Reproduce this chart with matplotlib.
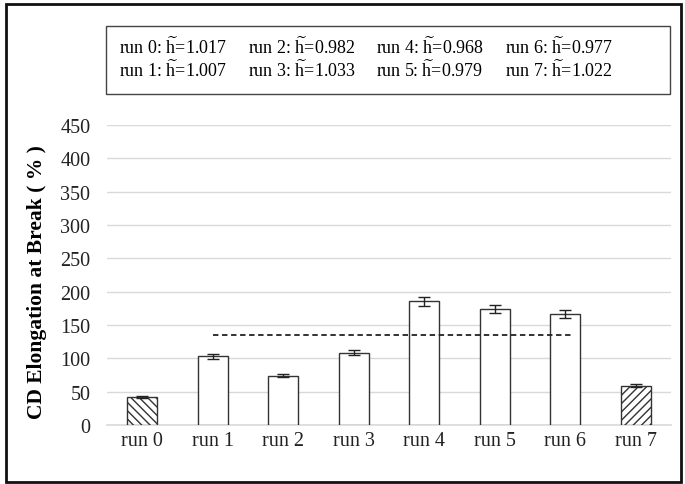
import numpy as np
import matplotlib
matplotlib.use("Agg")
from matplotlib import pyplot as plt
from matplotlib.patches import Rectangle, Patch

# CD elongation at break per run, with error bars
runs = ["run 0", "run 1", "run 2", "run 3", "run 4", "run 5", "run 6", "run 7"]
elongation = [42, 103, 74, 108.5, 185.5, 173.5, 167, 59]
errors = [2, 4, 2.5, 4, 6.5, 6, 6, 2]
h_tilde = ["1.017", "1.007", "0.982", "1.033", "0.968", "0.979", "0.977", "1.022"]
hatches = ["\\\\\\\\", "", "", "", "", "", "", "////"]

plt.rcParams["font.family"] = ["Liberation Serif", "DejaVu Serif"]
plt.rcParams["mathtext.fontset"] = "custom"
plt.rcParams["mathtext.rm"] = "Liberation Serif"
plt.rcParams["hatch.color"] = "#777777"

W, H = 685, 485
fig = plt.figure(figsize=(W / 100, H / 100), dpi=100)
ax = fig.add_axes([107 / W, 1 - 426 / H, 564 / W, 300 / H])

x = np.arange(len(runs))
for i in x:
    ax.bar(i, elongation[i], width=0.42, color="white", edgecolor="#333333",
           linewidth=1.0, hatch=hatches[i], zorder=3)
for b in ax.patches:
    b.set_edgecolor("#333333")
ax.errorbar(x, elongation, yerr=errors, fmt="none", ecolor="#222222",
            elinewidth=1.0, capsize=4.5, capthick=1.0, zorder=4)

# mean of runs 1-6 as dashed reference line
mean_mid = np.mean(elongation[1:7])
ax.plot([1, 6.1], [mean_mid, mean_mid], ls=(0, (3, 2)), color="#222222",
        lw=1.3, zorder=5)

ax.set_xlim(-0.5, 7.5)
ax.set_ylim(0, 450)
ax.set_yticks(np.arange(0, 451, 50))
ax.set_xticks(x)
ax.set_xticklabels(runs)
ax.yaxis.grid(True, color="#d9d9d9", lw=1.0, zorder=0)
ax.set_axisbelow(True)
for s in ["top", "right", "left"]:
    ax.spines[s].set_visible(False)
ax.spines["bottom"].set_color("#d9d9d9")
ax.spines["bottom"].set_linewidth(1.2)
ax.tick_params(axis="both", length=0, labelsize=14.5, colors="#222222")
ax.tick_params(axis="y", pad=12)
ax.tick_params(axis="x", pad=4)
ax.set_ylabel("CD Elongation at Break ( % )", fontsize=15.5, fontweight="bold")
ax.yaxis.set_label_coords(-0.107, 0.48)

# h-tilde summary box
handles = [Patch(visible=False) for _ in runs]
labels = [r"%s: $\widetilde{\mathrm{h}}$=%s" % (r, h) for r, h in zip(runs, h_tilde)]
leg = fig.legend(handles, labels, ncol=4, loc="upper left",
                 bbox_to_anchor=(109 / W, 1 - 27 / H),
                 handlelength=0, handletextpad=0, columnspacing=1.15,
                 fontsize=13, frameon=False, borderpad=0.55,
                 labelspacing=0.1, borderaxespad=0)
fig.patches.append(Rectangle((106 / W, 1 - 95 / H), 564 / W, 68 / H,
                             transform=fig.transFigure, fill=False,
                             edgecolor="#444444", lw=1.0))

# outer border
fig.patches.append(Rectangle((6 / W, 1 - 483 / H), 675 / W, 478 / H,
                             transform=fig.transFigure, fill=False,
                             edgecolor="#111111", lw=2))

fig.savefig("out.png", dpi=100)
